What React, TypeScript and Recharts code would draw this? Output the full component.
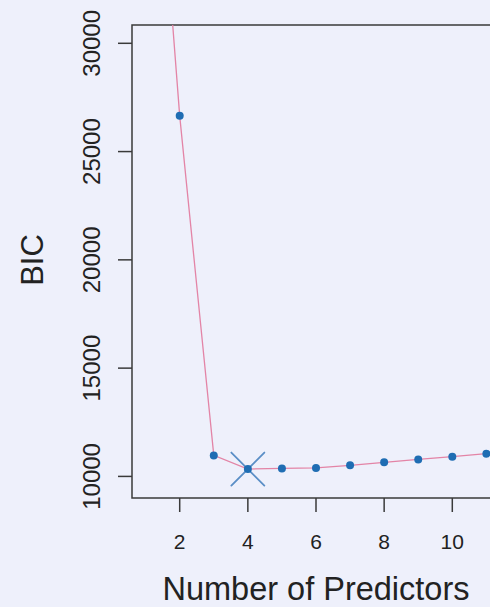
import React from "react";
import {
  ComposedChart,
  Line,
  XAxis,
  YAxis,
  ReferenceArea,
  ReferenceDot,
} from "recharts";

// BIC for best subset models, by number of predictors
const predictors = [1, 2, 3, 4, 5, 6, 7, 8, 9, 10, 11];
const bicValues = [47100, 26650, 10970, 10340, 10370, 10390, 10510, 10650, 10785, 10910, 11050];

const xTicks = [2, 4, 6, 8, 10];
const yTicks = [10000, 15000, 20000, 25000, 30000];

const X_DOMAIN: [number, number] = [0.6, 11.4];
const Y_DOMAIN: [number, number] = [9003, 30845];

const data = predictors.map((p, i) => ({ p, bic: bicValues[i] }));

// model with the lowest BIC gets the cross marker
const bestIndex = bicValues.reduce((best, v, i, arr) => (v < arr[best] ? i : best), 0);

const FONT = "'Liberation Sans', Arial, Helvetica, sans-serif";
const INK = "#222222";
const FRAME = "#3a3a3a";
const BG = "#eef0fb";

const XTick = (props: any) => {
  const { x, payload } = props;
  return (
    <text x={x} y={549} textAnchor="middle" fontFamily={FONT} fontSize={21} fill={INK}>
      {payload.value}
    </text>
  );
};

const YTick = (props: any) => {
  const { y, payload } = props;
  return (
    <text
      x={100}
      y={y}
      transform={`rotate(-90 100 ${y})`}
      textAnchor="middle"
      fontFamily={FONT}
      fontSize={24}
      fill={INK}
    >
      {payload.value}
    </text>
  );
};

const XTitle = () => (
  <text x={316} y={600} textAnchor="middle" fontFamily={FONT} fontSize={32.5} fill={INK}>
    Number of Predictors
  </text>
);

const YTitle = () => (
  <text
    x={43}
    y={260}
    transform="rotate(-90 43 260)"
    textAnchor="middle"
    fontFamily={FONT}
    fontSize={31}
    fill={INK}
  >
    BIC
  </text>
);

const Cross = (props: any) => {
  const { cx, cy } = props;
  const h = 16.5;
  return (
    <g stroke="#5a8ec6" strokeWidth={1.8} strokeLinecap="round">
      <line x1={cx - h} y1={cy - h} x2={cx + h} y2={cy + h} />
      <line x1={cx - h} y1={cy + h} x2={cx + h} y2={cy - h} />
    </g>
  );
};

export default function App() {
  return (
    <div
      style={{
        position: "absolute",
        left: 0,
        top: 0,
        width: 490,
        height: 607,
        overflow: "hidden",
        background: BG,
      }}
    >
      <ComposedChart
        width={510}
        height={607}
        data={data}
        margin={{ top: 25, right: 10, bottom: 0, left: 0 }}
      >
        <XAxis
          dataKey="p"
          type="number"
          domain={X_DOMAIN}
          allowDataOverflow
          ticks={xTicks}
          tickSize={14}
          height={109}
          axisLine={false}
          tickLine={{ stroke: FRAME, strokeWidth: 1.5 }}
          tick={<XTick />}
          label={<XTitle />}
        />
        <YAxis
          type="number"
          domain={Y_DOMAIN}
          allowDataOverflow
          ticks={yTicks}
          tickSize={14}
          width={132}
          axisLine={false}
          tickLine={{ stroke: FRAME, strokeWidth: 1.5 }}
          tick={<YTick />}
          label={<YTitle />}
        />
        <ReferenceArea
          x1={X_DOMAIN[0]}
          x2={X_DOMAIN[1]}
          y1={Y_DOMAIN[0]}
          y2={Y_DOMAIN[1]}
          ifOverflow="visible"
          fill="none"
          fillOpacity={0}
          stroke={FRAME}
          strokeWidth={1.5}
        />
        <ReferenceDot
          x={predictors[bestIndex]}
          y={bicValues[bestIndex]}
          r={16}
          ifOverflow="visible"
          shape={(p: any) => <Cross {...p} />}
        />
        <Line
          dataKey="bic"
          type="linear"
          stroke="#e384a6"
          strokeWidth={1.3}
          dot={{ r: 4, fill: "#1f6db3", stroke: "none" }}
          activeDot={false}
          isAnimationActive={false}
        />
      </ComposedChart>
    </div>
  );
}
